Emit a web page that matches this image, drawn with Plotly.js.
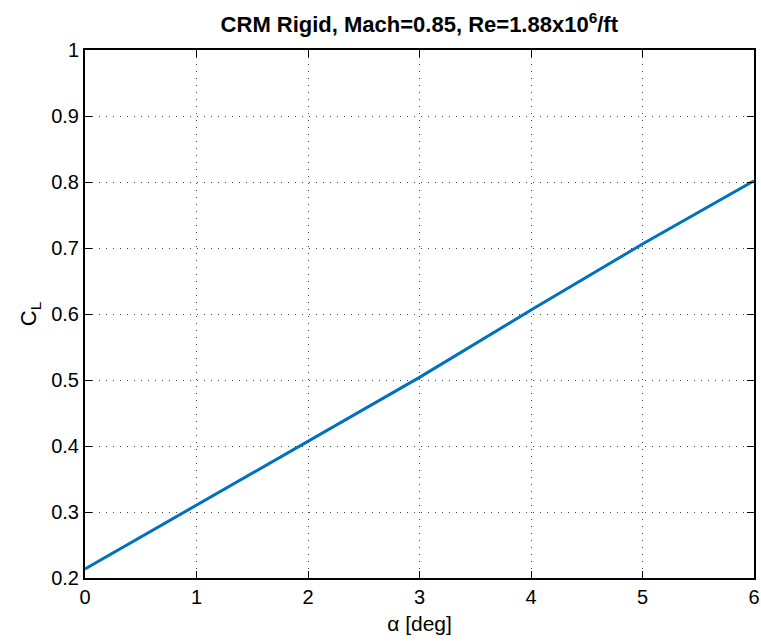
<!DOCTYPE html>
<html><head><meta charset="utf-8">
<script src="https://cdn.plot.ly/plotly-3.0.1.min.js"></script>
<style>html,body{margin:0;padding:0;background:#fff}</style>
</head><body>
<div id="chart" style="width:761px;height:642px"></div>
<script>
const alphaDeg = [0, 1, 2, 3, 4, 5, 6];
const CL = [0.2136, 0.310, 0.407, 0.504, 0.606, 0.706, 0.802];
const xTicks = [0, 1, 2, 3, 4, 5, 6];
const yTicks = [0.2, 0.3, 0.4, 0.5, 0.6, 0.7, 0.8, 0.9, 1];

const fam = 'Liberation Sans, Arial, sans-serif';
const font = {family: fam, size: 20, color: '#000'};
const axisCommon = {
  showline: true, linecolor: '#000', linewidth: 2, mirror: 'ticks',
  ticks: 'inside', ticklen: 7, tickcolor: '#000', tickwidth: 1,
  showgrid: true, gridcolor: '#444', griddash: '1px,6px', gridwidth: 1,
  zeroline: false, tickfont: font
};
Plotly.newPlot('chart', [{
  x: alphaDeg, y: CL, mode: 'lines', type: 'scatter',
  line: {color: '#0072BD', width: 3}
}], {
  width: 761, height: 642,
  margin: {l: 85, r: 7, t: 50, b: 64},
  paper_bgcolor: '#fff', plot_bgcolor: '#fff',
  showlegend: false,
  title: {text: '<b>CRM Rigid, Mach=0.85, Re=1.88x10<sup>6</sup>/ft</b>', font: {family: fam, size: 22, color: '#000'}, x: 0.551, xanchor: 'center', y: 0.962, yanchor: 'middle'},
  xaxis: Object.assign({}, axisCommon, {range: [0, 6], tickvals: xTicks, ticktext: xTicks.map(String),
    title: {text: 'α [deg]', font: {family: fam, size: 21, color: '#000'}, standoff: 9}}),
  yaxis: Object.assign({}, axisCommon, {range: [0.2, 1], tickvals: yTicks, ticktext: yTicks.map(String),
    title: {text: 'C<sub>L</sub>', font: {family: fam, size: 22, color: '#000'}, standoff: 8}})
}, {displayModeBar: false});
</script>
</body></html>
